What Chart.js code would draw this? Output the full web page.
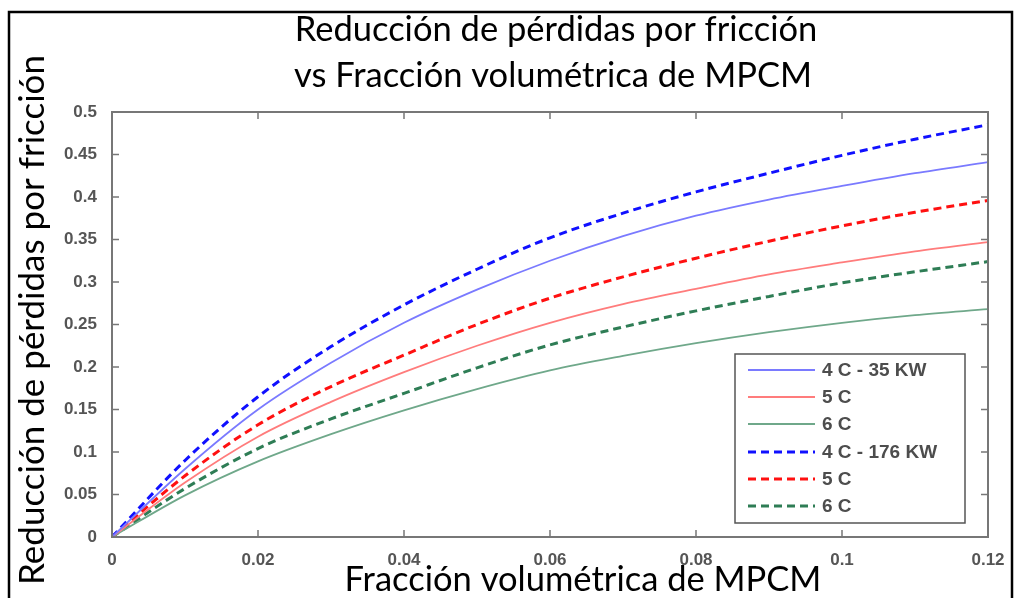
<!DOCTYPE html>
<html>
<head>
<meta charset="utf-8">
<script src="https://cdn.jsdelivr.net/npm/chart.js@4/dist/chart.umd.min.js"></script>
<style>
html,body{margin:0;padding:0;background:#fff;}
canvas{display:block;}
</style>
</head>
<body>
<canvas id="c" width="1017" height="598"></canvas>
<script>
// ---- data ----
const xValues = [0, 0.01, 0.02, 0.03, 0.04, 0.05, 0.06, 0.07, 0.08, 0.09, 0.10, 0.11, 0.12];
const blue35   = [0, 0.080, 0.150, 0.205, 0.252, 0.291, 0.325, 0.354, 0.378, 0.397, 0.413, 0.428, 0.441];
const red35    = [0, 0.064, 0.118, 0.159, 0.194, 0.225, 0.252, 0.274, 0.292, 0.309, 0.323, 0.336, 0.347];
const green35  = [0, 0.049, 0.089, 0.121, 0.149, 0.174, 0.196, 0.213, 0.228, 0.241, 0.252, 0.261, 0.268];
const blue176  = [0, 0.090, 0.165, 0.224, 0.273, 0.315, 0.352, 0.381, 0.406, 0.428, 0.449, 0.468, 0.485];
const red176   = [0, 0.072, 0.132, 0.177, 0.214, 0.250, 0.281, 0.306, 0.328, 0.348, 0.366, 0.382, 0.396];
const green176 = [0, 0.057, 0.104, 0.139, 0.169, 0.199, 0.226, 0.247, 0.266, 0.283, 0.299, 0.312, 0.324];
const seriesLabels = ['4 C - 35 KW', '5 C', '6 C', '4 C - 176 KW', '5 C', '6 C'];
const xTicks = [0, 0.02, 0.04, 0.06, 0.08, 0.10, 0.12];
const xTickLabels = ['0', '0.02', '0.04', '0.06', '0.08', '0.1', '0.12'];
const yTicks = [0, 0.05, 0.10, 0.15, 0.20, 0.25, 0.30, 0.35, 0.40, 0.45, 0.50];
const yTickLabels = ['0', '0.05', '0.1', '0.15', '0.2', '0.25', '0.3', '0.35', '0.4', '0.45', '0.5'];
const titleLines = ['Reducción de pérdidas por fricción', 'vs Fracción volumétrica de MPCM'];
const xTitle = 'Fracción volumétrica de MPCM';
const yTitle = 'Reducción de pérdidas por fricción';

// ---- styles ----
const colors = ['#7a7aff', '#ff7c7c', '#6fa88a', '#1010ff', '#ff1010', '#2e7d55'];
const widths = [1.8, 1.8, 1.8, 3, 3, 3];
const dashes = [[], [], [], [8, 5], [8, 5], [8, 5]];
const seriesData = [blue35, red35, green35, blue176, red176, green176];

const datasets = seriesData.map((arr, i) => ({
  label: seriesLabels[i],
  data: arr.map((v, j) => ({x: xValues[j], y: v})),
  borderColor: colors[i],
  borderWidth: widths[i],
  borderDash: dashes[i],
  pointRadius: 0,
  fill: false,
  cubicInterpolationMode: 'monotone'
}));

const TEXTFONT = 'Lato, "Open Sans", sans-serif';
function fitFont(ctx, text, target, base) {
  ctx.font = base + 'px ' + TEXTFONT;
  const w = ctx.measureText(text).width;
  return base * target / w;
}

const decor = {
  id: 'decor',
  beforeDraw(chart) {
    const ctx = chart.ctx;
    ctx.save();
    ctx.fillStyle = '#fff';
    ctx.fillRect(0, 0, chart.width, chart.height);
    ctx.strokeStyle = '#000';
    ctx.lineWidth = 2.5;
    ctx.strokeRect(9, 12, 1003, 600);
    ctx.restore();
  },
  afterDraw(chart) {
    const ctx = chart.ctx;
    const a = chart.chartArea;
    const xs = chart.scales.x, ys = chart.scales.y;
    ctx.save();
    // plot box
    ctx.strokeStyle = '#777';
    ctx.lineWidth = 2;
    ctx.strokeRect(a.left, a.top, a.right - a.left, a.bottom - a.top);
    // inward ticks
    ctx.lineWidth = 1.5;
    ctx.beginPath();
    xTicks.forEach(v => {
      const px = xs.getPixelForValue(v);
      ctx.moveTo(px, a.bottom); ctx.lineTo(px, a.bottom - 7);
      ctx.moveTo(px, a.top); ctx.lineTo(px, a.top + 7);
    });
    yTicks.forEach(v => {
      const py = ys.getPixelForValue(v);
      ctx.moveTo(a.left, py); ctx.lineTo(a.left + 7, py);
      ctx.moveTo(a.right, py); ctx.lineTo(a.right - 7, py);
    });
    ctx.stroke();

    // legend
    const lx = 735, ly = 354, lw = 230, lh = 169;
    ctx.fillStyle = '#fff';
    ctx.fillRect(lx, ly, lw, lh);
    ctx.strokeStyle = '#555';
    ctx.lineWidth = 1.5;
    ctx.strokeRect(lx, ly, lw, lh);
    const rowY = [370, 397, 424, 452, 479, 506];
    chart.data.datasets.forEach((ds, i) => {
      const y = rowY[i];
      ctx.beginPath();
      ctx.strokeStyle = ds.borderColor;
      ctx.lineWidth = ds.borderWidth;
      ctx.setLineDash(ds.borderDash);
      ctx.moveTo(748, y); ctx.lineTo(815, y);
      ctx.stroke();
      ctx.setLineDash([]);
      ctx.fillStyle = '#4d4d4d';
      ctx.font = 'bold 19px "Liberation Sans", Arial, sans-serif';
      ctx.textAlign = 'left';
      ctx.textBaseline = 'middle';
      ctx.fillText(ds.label, 822, y + 1);
    });

    // titles
    ctx.fillStyle = '#000';
    ctx.textAlign = 'center';
    ctx.textBaseline = 'alphabetic';
    let fs = fitFont(ctx, titleLines[0], 523, 30);
    ctx.font = fs + 'px ' + TEXTFONT;
    ctx.fillText(titleLines[0], 556, 41);
    ctx.fillText(titleLines[1], 553, 87);
    fs = fitFont(ctx, xTitle, 477, 30);
    ctx.font = fs + 'px ' + TEXTFONT;
    ctx.fillText(xTitle, 583, 591);
    fs = fitFont(ctx, yTitle, 530, 30);
    ctx.font = fs + 'px ' + TEXTFONT;
    ctx.translate(44, 320);
    ctx.rotate(-Math.PI / 2);
    ctx.fillText(yTitle, 0, 0);
    ctx.restore();
  }
};

const tickFont = {family: '"Liberation Sans", Arial, sans-serif', size: 17, weight: 'bold'};

new Chart(document.getElementById('c'), {
  type: 'line',
  data: {datasets},
  options: {
    responsive: false,
    animation: false,
    devicePixelRatio: 1,
    layout: {padding: {left: 42, right: 29, top: 112, bottom: 21}},
    plugins: {legend: {display: false}, title: {display: false}, tooltip: {enabled: false}},
    scales: {
      x: {
        type: 'linear', min: 0, max: 0.12,
        grid: {display: false},
        border: {display: true, color: '#777', width: 2},
        afterBuildTicks: s => { s.ticks = xTicks.map(v => ({value: v})); },
        afterFit: s => { s.height = 40; },
        ticks: {
          font: tickFont, color: '#555', padding: 5, maxRotation: 0, autoSkip: false,
          callback: (v, i) => xTickLabels[i]
        }
      },
      y: {
        type: 'linear', min: 0, max: 0.5,
        grid: {display: false},
        border: {display: true, color: '#777', width: 2},
        afterBuildTicks: s => { s.ticks = yTicks.map(v => ({value: v})); },
        afterFit: s => { s.width = 70; },
        ticks: {
          font: tickFont, color: '#555', padding: 7, autoSkip: false,
          callback: (v, i) => yTickLabels[i]
        }
      }
    }
  },
  plugins: [decor]
});
</script>
</body>
</html>
